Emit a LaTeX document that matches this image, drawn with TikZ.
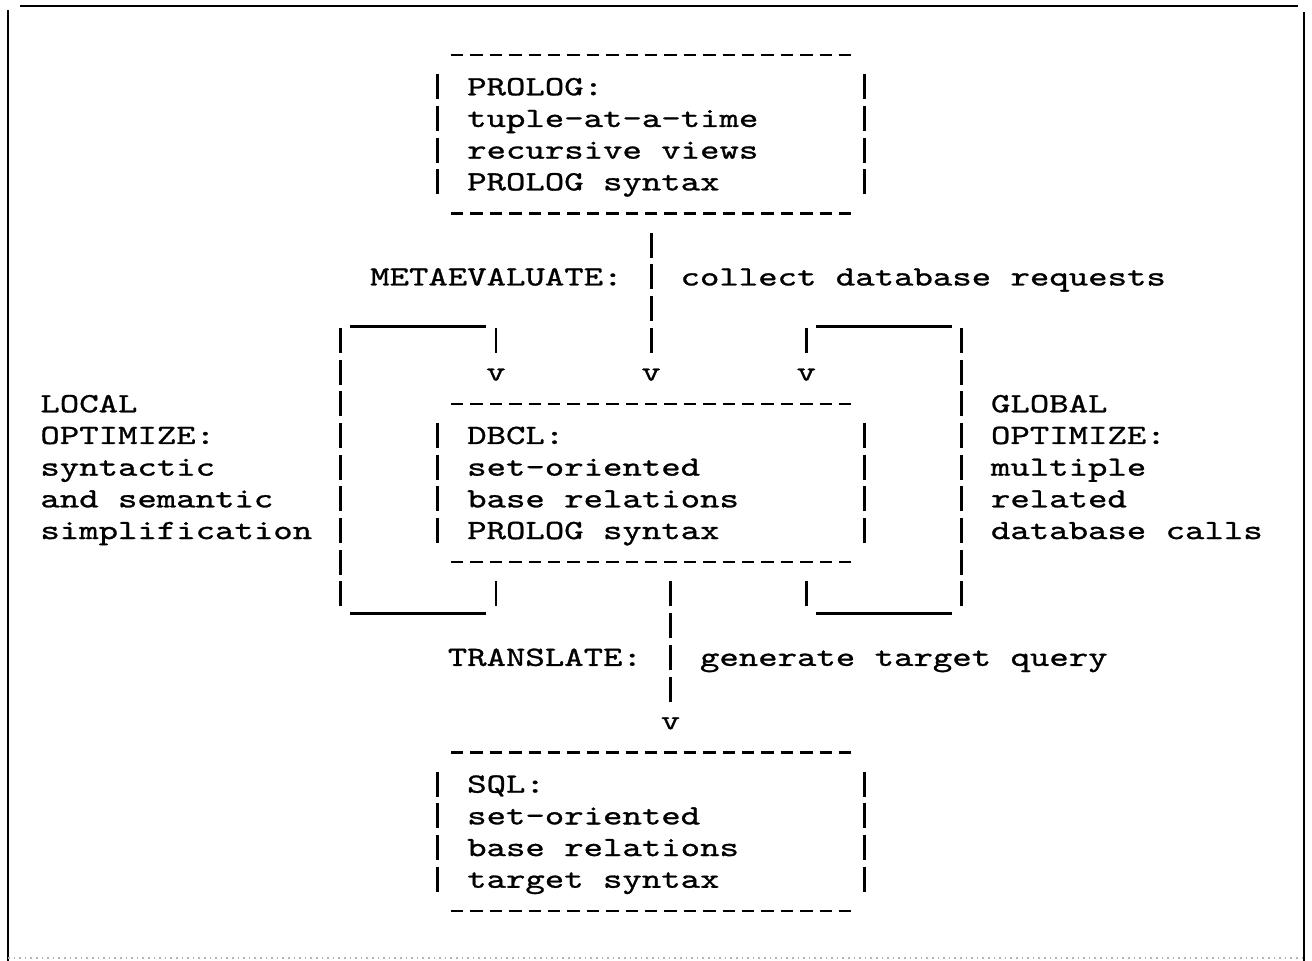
\documentclass[tikz,border=0pt]{standalone}
\usepackage{fontspec}
\setmonofont[FakeStretch=1.33,FakeBold=1]{lmmono10-regular.otf}
\tikzset{
  mono/.style={font=\ttfamily\fontsize{13.9pt}{15.85pt}\selectfont,inner sep=0pt,text height=12.2pt,text depth=3.65pt,anchor=west},
  tip/.style={mono,anchor=center},
  hdash/.style={line width=1.2pt,dash pattern=on 6.2pt off 3.5pt,dash phase=7.95pt},
  vbar/.style={line width=1.4pt,dash pattern=on 12.5pt off 3.35pt,dash phase=14.175pt},
  rule/.style={line width=1.2pt},
  frame/.style={line width=1.4pt}
}
\begin{document}
\begin{tikzpicture}[x=9.7pt,y=-15.85pt]
\useasboundingbox (-2.062,-1.735) rectangle (65.567,28.58);

% frame
\draw[frame] (-1.03,-1.546) -- (64.85,-1.546);
\draw[frame] (-1.65,-1.42) -- (-1.65,28.58);
\draw[frame] (65.15,-1.356) -- (65.15,28.58);
\draw[line width=0.8pt,gray!60,dotted] (-1.65,28.49) -- (65.15,28.49);

% boxes
\foreach \r in {0,11,22}
{
    \draw[hdash] (21,\r) -- (42,\r);
    \draw[hdash] (21,\r+5) -- (42,\r+5);
    \draw[vbar] (20.5,\r+0.5) -- (20.5,\r+4.5);
    \draw[vbar] (42.5,\r+0.5) -- (42.5,\r+4.5);
}

\foreach \t [count=\i] in {PROLOG:,tuple-at-a-time,recursive views,PROLOG syntax}
    \node[mono] (prolog\i) at (22,\i) {\t};
\foreach \t [count=\i] in {DBCL:,set-oriented,base relations,PROLOG syntax}
    \node[mono] (dbcl\i) at (22,11+\i) {\t};
\foreach \t [count=\i] in {SQL:,set-oriented,base relations,target syntax}
    \node[mono] (sql\i) at (22,22+\i) {\t};
\foreach \t [count=\i] in {LOCAL,OPTIMIZE:,syntactic,and semantic,simplification}
    \node[mono] (local\i) at (0,10+\i) {\t};
\foreach \t [count=\i] in {GLOBAL,OPTIMIZE:,multiple,related,database calls}
    \node[mono] (global\i) at (49,10+\i) {\t};

\node[mono] (meta) at (17,7) {METAEVALUATE:};
\node[mono] (collect) at (33,7) {collect database requests};
\node[mono] (translate) at (21,19) {TRANSLATE:};
\node[mono] (generate) at (34,19) {generate target query};

% arrow tips
\node[tip] (v-local) at (23.5,10) {v};
\node[tip] (v-meta) at (31.5,10) {v};
\node[tip] (v-global) at (39.5,10) {v};
\node[tip] (v-trans) at (32.5,21) {v};

\coordinate (prolog-s) at (31.5,5.5);
\coordinate (dbcl-sw) at (23.5,16.5);
\coordinate (dbcl-s) at (32.5,16.5);
\coordinate (dbcl-se) at (39.5,16.5);

\draw[vbar] (prolog-s) -- (v-meta);
\draw[vbar] (dbcl-s) -- (v-trans);

% local loop
\draw[vbar] (dbcl-sw) -- (23.5,17.5);
\draw[rule] (23,17.62) -- (16,17.62);
\draw[vbar] (15.5,17.5) -- (15.5,8.5);
\draw[rule] (16,8.56) -- (23,8.56);
\draw[vbar] (23.5,8.5) -- (v-local);

% global loop
\draw[vbar] (dbcl-se) -- (39.5,17.5);
\draw[rule] (40,17.62) -- (47,17.62);
\draw[vbar] (47.5,17.5) -- (47.5,8.5);
\draw[rule] (47,8.56) -- (40,8.56);
\draw[vbar] (39.5,8.5) -- (v-global);
\end{tikzpicture}
\end{document}
